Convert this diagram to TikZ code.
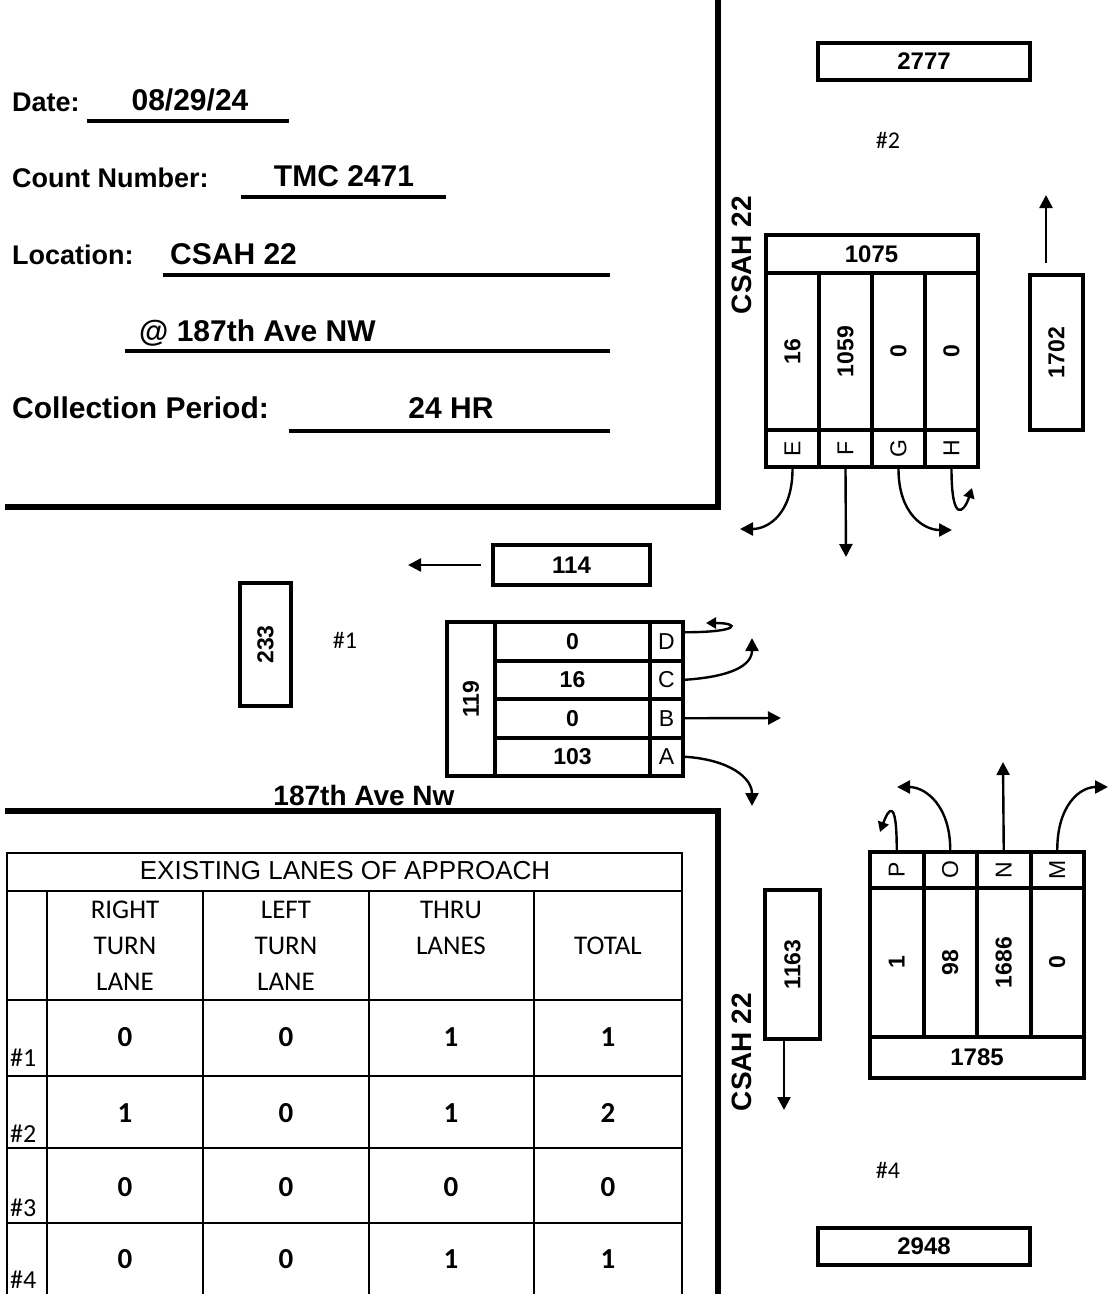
\documentclass[tikz,border=0pt]{standalone}
\usepackage{fontspec}
\usepackage{graphicx}
\usepackage{tikz}
\usetikzlibrary{calc,arrows.meta,positioning}
\setmainfont{Liberation Sans}
\newfontfamily\calfont{Carlito}
\definecolor{tmcInk}{RGB}{0,0,0}
\newcommand{\fsz}[1]{\fontsize{#1}{#1}\selectfont}

\begin{document}
\begin{tikzpicture}[x=1pt,y=-1pt,
  cell/.style={draw=tmcInk, line width=4pt, inner sep=0pt, font=\fsz{24}\bfseries},
  vcell/.style={cell, font=\fsz{23}\bfseries},
  ltr/.style={draw=tmcInk, line width=4pt, inner sep=0pt, font=\fsz{23}},
  road/.style={tmcInk, line width=6pt},
  uline/.style={tmcInk, line width=4pt},
  tabline/.style={tmcInk, line width=1.8pt},
  mv/.style={tmcInk, line width=2.4pt, -{Triangle[length=13pt,width=13pt]}},
  lbl/.style={font=\fsz{27}\bfseries, inner sep=0pt, anchor=base west},
  fill/.style={font=\fsz{30}\bfseries, inner sep=0pt, anchor=base},
  tag/.style={font=\calfont\fsz{24}, inner sep=0pt},
  road name/.style={font=\fsz{28}\bfseries, inner sep=0pt},
  colhead/.style={font=\calfont\fontsize{27}{36}\selectfont, align=center, inner sep=0pt}]
\useasboundingbox (0,0) rectangle (1112,1294);

% roads
\draw[road] (5,507) -- (718,507) -- (718,0);
\draw[road] (5,811) -- (718,811) -- (718,1294);

% header fields
\node[lbl] (dateL) at (12,111) {Date:};
\node[fill] (dateV) at (190,110) {08/29/24};
\draw[uline] (87,121) -- (289,121);
\node[lbl] (cntL) at (12,187) {Count Number:};
\node[fill] (cntV) at (344,186) {TMC 2471};
\draw[uline] (241,197) -- (446,197);
\node[lbl] (locL) at (12,264) {Location:};
\node[fill, anchor=base west] (locV) at (170,264) {CSAH 22};
\draw[uline] (163,275) -- (610,275);
\node[fill, anchor=base west] (locW) at (139,341) {@ 187th Ave NW};
\draw[uline] (125,351) -- (610,351);
\node[lbl, font=\fsz{30}\bfseries] (perL) at (12,418) {Collection Period:};
\node[fill] (perV) at (451,418) {24 HR};
\draw[uline] (289,431) -- (610,431);

% road names
\node[road name, rotate=90] (csahN) at (742,255) {CSAH 22};
\node[road name, rotate=90] (csahS) at (742,1052) {CSAH 22};
\node[road name] (aveW) at (364,795) {187th Ave Nw};

% north approach (#2)
\node[cell, minimum width=212pt, minimum height=37pt] (b2777) at (924,61.5) {2777};
\node[tag] (app2) at (888,140) {\#2};
\node[cell, minimum width=212pt, minimum height=38pt] (nTot) at (871.5,254) {1075};
\foreach \lab/\val [count=\i] in {E/16,F/1059,G/0,H/0}{
  \pgfmathsetmacro{\cx}{766+53*(\i-0.5)}
  \node[vcell, minimum width=53pt, minimum height=157pt] (nv\lab) at (\cx,351.5) {\rotatebox{90}{\val}};
  \node[ltr, minimum width=53pt, minimum height=37pt] (n\lab) at (\cx,448.5) {\rotatebox{90}{\lab}};
}
\node[vcell, minimum width=53pt, minimum height=155pt] (b1702) at (1056.5,352.5) {\rotatebox{90}{1702}};
\coordinate (e1702) at (1046,195);
\draw[mv, shorten <=10pt] ([xshift=-10.5pt]b1702.north) -- (e1702);
\coordinate (eE) at (740,529);
\coordinate (eF) at (846,557);
\coordinate (eG) at (952,530);
\coordinate (eH) at (972,488);
\draw[mv] (nE.south) .. controls +(0,45) and +(28,0) .. (eE);
\draw[mv] (nF.south) -- (eF);
\draw[mv] (nG.south) .. controls +(0,45) and +(-28,0) .. (eG);
\draw[mv, -{Triangle[length=10pt,width=11pt]}] (nH.south) .. controls +(0,55) and +(-8,25) .. (eH);

% west approach (#1)
\node[cell, minimum width=157pt, minimum height=40pt] (b114) at (571.5,565) {114};
\coordinate (e114) at (408,565);
\draw[mv, shorten <=10pt] (b114.west) -- (e114);
\node[vcell, minimum width=51pt, minimum height=123pt] (b233) at (265.5,644.5) {\rotatebox{90}{233}};
\node[tag] (app1) at (345,640) {\#1};
\node[vcell, minimum width=48pt, minimum height=154pt] (wTot) at (471,699) {\rotatebox{90}{119}};
\foreach \lab/\val [count=\i] in {D/0,C/16,B/0,A/103}{
  \pgfmathsetmacro{\cy}{622+38.5*(\i-0.5)}
  \node[vcell, minimum width=155pt, minimum height=38.5pt] (wv\lab) at (572.5,\cy) {\val};
  \node[ltr, minimum width=33pt, minimum height=38.5pt] (w\lab) at (666.5,\cy) {\lab};
}
\coordinate (eD) at (706,623);
\coordinate (eC) at (752,638);
\coordinate (eB) at (781,718);
\coordinate (eA) at (752,806);
\draw[mv, -{Triangle[length=10pt,width=11pt]}] ([yshift=9pt]wD.east) .. controls +(55,0) and +(35,0) .. (eD);
\draw[mv] (wC.east) .. controls +(45,-3) and +(0,28) .. (eC);
\draw[mv] (wB.east) -- (eB);
\draw[mv] (wA.east) .. controls +(45,3) and +(0,-28) .. (eA);

% south approach (#4)
\node[vcell, minimum width=55pt, minimum height=149pt] (b1163) at (792.5,964.5) {\rotatebox{90}{1163}};
\coordinate (e1163) at (784,1110);
\draw[mv] ([xshift=-8.5pt]b1163.south) -- (e1163);
\foreach \lab/\val [count=\i] in {P/1,O/98,N/1686,M/0}{
  \pgfmathsetmacro{\cx}{870+53.5*(\i-0.5)}
  \node[ltr, minimum width=53.5pt, minimum height=36pt] (s\lab) at (\cx,870) {\rotatebox{90}{\lab}};
  \node[vcell, minimum width=53.5pt, minimum height=149pt] (sv\lab) at (\cx,962.5) {\rotatebox{90}{\val}};
}
\node[cell, minimum width=214pt, minimum height=41pt] (sTot) at (977,1057.5) {1785};
\coordinate (eP) at (880,832);
\coordinate (eO) at (897,787);
\coordinate (eN) at (1003,762);
\coordinate (eM) at (1108,787);
\draw[mv, -{Triangle[length=10pt,width=11pt]}] (sP.north) .. controls +(0,-55) and +(8,-22) .. (eP);
\draw[mv] (sO.north) .. controls +(0,-45) and +(28,0) .. (eO);
\draw[mv] (sN.north) -- (eN);
\draw[mv] (sM.north) .. controls +(0,-45) and +(-28,0) .. (eM);
\node[tag] (app4) at (888,1170) {\#4};
\node[cell, minimum width=212pt, minimum height=37pt] (b2948) at (924,1246.5) {2948};

% lanes table
\draw[tabline] (7,1294) -- (7,853) -- (682,853) -- (682,1294);
\foreach \y in {891,1000,1076,1148,1223}
  \draw[tabline] (7,\y) -- (682,\y);
\foreach \x in {47,203,369,534}
  \draw[tabline] (\x,891) -- (\x,1294);
\node[font=\fsz{26}] (tHead) at (345,871) {EXISTING LANES OF APPROACH};
\node[colhead] (hRight) at (125,946) {RIGHT\\TURN\\LANE};
\node[colhead] (hLeft) at (286,946) {LEFT\\TURN\\LANE};
\node[colhead] (hThru) at (451,928) {THRU\\LANES};
\node[colhead] (hTot) at (608,946) {TOTAL};
\foreach \r/\a/\b/\c/\d/\yv in {1/0/0/1/1/1037,2/1/0/1/2/1113,3/0/0/0/0/1187,4/0/0/1/1/1259}{
  \node[font=\calfont\fsz{29}\bfseries] (r\r a) at (125,\yv) {\a};
  \node[font=\calfont\fsz{29}\bfseries] (r\r b) at (286,\yv) {\b};
  \node[font=\calfont\fsz{29}\bfseries] (r\r c) at (451,\yv) {\c};
  \node[font=\calfont\fsz{29}\bfseries] (r\r d) at (608,\yv) {\d};
  \node[font=\calfont\fsz{26}, anchor=west, inner sep=0pt] (r\r n) at (10,\yv+21) {\#\r};
}
\end{tikzpicture}
\end{document}
